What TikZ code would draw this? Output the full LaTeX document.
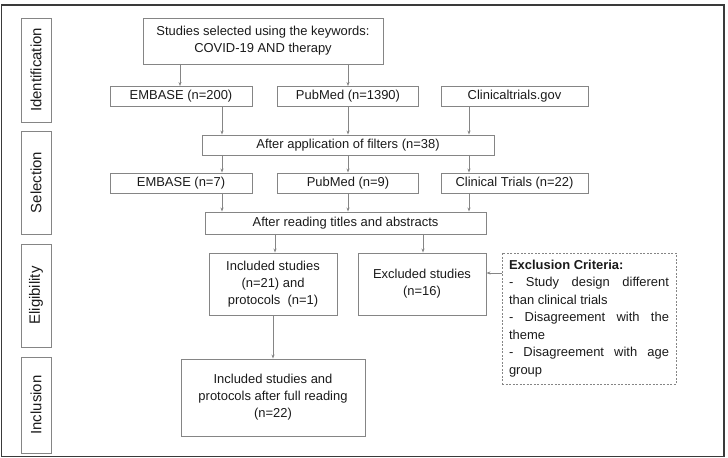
\documentclass[tikz,border=0pt]{standalone}
\usepackage{fontspec}
\setmainfont{Liberation Sans}
\usetikzlibrary{arrows.meta}
\definecolor{boxgray}{HTML}{858585}
\definecolor{txt}{HTML}{1A1A1A}
\definecolor{framec}{HTML}{3A3A3A}
\tikzset{
  box/.style={draw=boxgray, line width=0.9bp, text=txt, align=center, inner sep=0pt,
    font=\fontsize{13}{17}\selectfont},
  side/.style={draw=boxgray, line width=0.9bp, text=txt, inner sep=0pt,
    font=\fontsize{15}{17}\selectfont},
  sidetext/.style={rotate=90, text=txt, font=\fontsize{15}{17}\selectfont},
  arr/.style={draw=boxgray, line width=0.7bp, -{Stealth[length=4bp,width=3bp]}},
}
\begin{document}
\begin{tikzpicture}[x=1bp,y=-1bp]
\useasboundingbox (0,0) rectangle (728,458);
\draw[framec, line width=1.6bp] (1.5,5) rectangle (724,456.5);

% side labels
\node[side, minimum width=30bp, minimum height=104bp] (sid) at (36,70) {};
\node[sidetext] (tid) at (sid.center) {Identification};
\node[side, minimum width=30bp, minimum height=103bp] (ssel) at (36,182.5) {};
\node[sidetext] (tsel) at (ssel.center) {Selection};
\node[side, minimum width=30bp, minimum height=103bp] (seli) at (36,295.5) {};
\node[sidetext] (teli) at (seli.center) {Eligibility};
\node[side, minimum width=30bp, minimum height=96bp] (sinc) at (36,405) {};
\node[sidetext] (tinc) at (sinc.center) {Inclusion};

% main boxes
\node[box, minimum width=240bp, minimum height=46bp] (top) at (263,41)
  {Studies selected using the keywords:\\COVID-19 AND therapy};
\node[box, minimum width=142bp, minimum height=20bp] (emb1) at (181,96.5) {EMBASE (n=200)};
\node[box, minimum width=141bp, minimum height=20bp] (pub1) at (348,96.5) {PubMed (n=1390)};
\node[box, minimum width=147bp, minimum height=20bp] (cli1) at (514.5,96.5) {Clinicaltrials.gov};
\node[box, minimum width=292bp, minimum height=20bp] (filt) at (348,145) {After application of filters (n=38)};
\node[box, minimum width=142bp, minimum height=20bp] (emb2) at (181,183) {EMBASE (n=7)};
\node[box, minimum width=141bp, minimum height=20bp] (pub2) at (348,183) {PubMed (n=9)};
\node[box, minimum width=147bp, minimum height=20bp] (cli2) at (514.5,183) {Clinical Trials (n=22)};
\node[box, minimum width=281bp, minimum height=22bp] (read) at (345.5,223) {After reading titles and abstracts};
\node[box, minimum width=128bp, minimum height=62bp] (incl) at (273,284)
  {Included studies\\(n=21) and\\protocols~ (n=1)};
\node[box, minimum width=128bp, minimum height=62bp] (excl) at (422,284)
  {Excluded studies\\(n=16)};
\node[box, minimum width=184bp, minimum height=77bp] (final) at (273,397.5)
  {Included studies and\\protocols after full reading\\(n=22)};
\node[draw=boxgray, line width=0.9bp, dash pattern=on 2bp off 1.5bp, text=txt,
  minimum width=174bp, minimum height=131bp, text width=160bp, align=justify,
  inner sep=0pt, font=\fontsize{13}{17.6}\selectfont] (crit) at (589,318.5)
  {\textbf{Exclusion Criteria:}\\
   - Study design different\linebreak than clinical trials\\
   - Disagreement with the\linebreak theme\\
   - Disagreement with age\linebreak group};

% connectors
\coordinate (t1) at (180,64);
\coordinate (t2) at (348,64);
\draw[arr] (t1) -- (t1 |- emb1.north);
\draw[arr] (t2) -- (t2 |- pub1.north);
\coordinate (a1) at (222,106.5);
\draw[arr] (a1) -- (a1 |- filt.north);
\draw[arr] (pub1.south) -- (pub1.south |- filt.north);
\coordinate (a3) at (469,106.5);
\draw[arr] (a3) -- (a3 |- filt.north);
\coordinate (b1) at (222,155);
\draw[arr] (b1) -- (b1 |- emb2.north);
\draw[arr] (filt.south) -- (filt.south |- pub2.north);
\coordinate (b3) at (469,155);
\draw[arr] (b3) -- (b3 |- cli2.north);
\coordinate (c1) at (222,193);
\draw[arr] (c1) -- (c1 |- read.north);
\draw[arr] (pub2.south) -- (pub2.south |- read.north);
\coordinate (c3) at (469,193);
\draw[arr] (c3) -- (c3 |- read.north);
\coordinate (d1) at (275,234);
\draw[arr] (d1) -- (d1 |- incl.north);
\coordinate (d2) at (423,234);
\draw[arr] (d2) -- (d2 |- excl.north);
\draw[arr] (incl.south) -- (final.north);
\coordinate (e1) at (502,273);
\draw[arr] (e1) -- (e1 -| excl.east);
\end{tikzpicture}
\end{document}
